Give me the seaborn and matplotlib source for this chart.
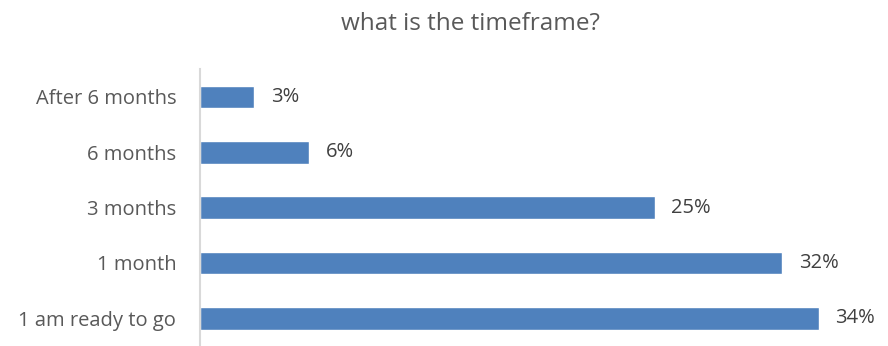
import matplotlib
matplotlib.use("Agg")
import matplotlib.pyplot as plt
import seaborn as sns
import pandas as pd

categories = ["After 6 months", "6 months", "3 months", "1 month", "1 am ready to go"]
values = [3, 6, 25, 32, 34]
value_labels = ["3%", "6%", "25%", "32%", "34%"]

sns.set_style("white")
plt.rcParams["font.family"] = ["Open Sans", "DejaVu Sans"]

df = pd.DataFrame({"category": categories, "value": values})

fig = plt.figure(figsize=(8.88, 3.46), dpi=100)
ax = fig.add_axes([0.225, 0.0, 0.775, 0.80])

sns.barplot(data=df, y="category", x="value", orient="h", color="#4F81BD",
            saturation=1, width=0.41, ax=ax)

ax.set_xlim(0, 37.8)
ax.set_xlabel("")
ax.set_ylabel("")
ax.set_xticks([])
for s in ["top", "right", "bottom"]:
    ax.spines[s].set_visible(False)
ax.spines["left"].set_color("#D9D9D9")
ax.spines["left"].set_linewidth(1.5)
ax.tick_params(axis="y", length=0, pad=17, labelsize=14.5, labelcolor="#595959")

for i, (v, lab) in enumerate(zip(values, value_labels)):
    ax.text(v + 0.9, i, lab, va="center", ha="left", fontsize=14.5, color="#404040")

fig.suptitle("what is the timeframe?", x=0.53, y=0.965, fontsize=17.5, color="#595959")

fig.savefig("out.png", dpi=100)
